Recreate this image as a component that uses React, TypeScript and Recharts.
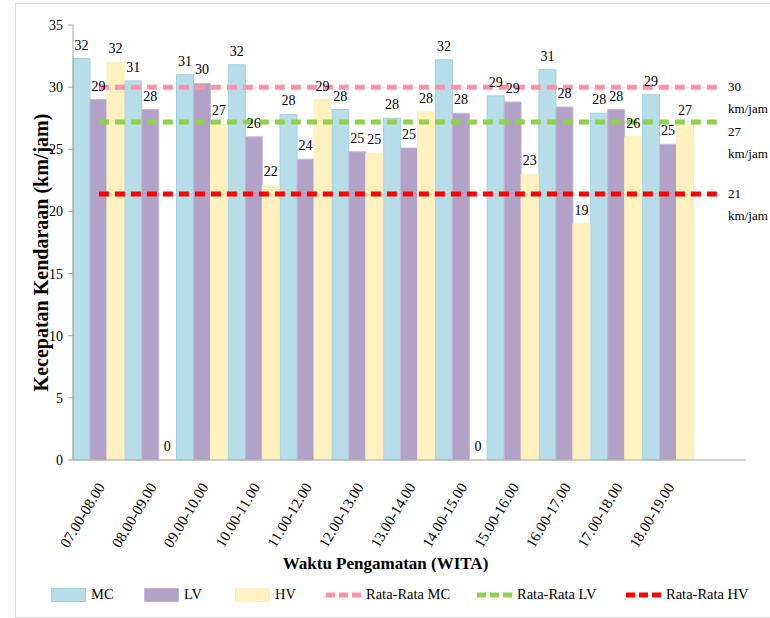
import { Bar, ComposedChart, LabelList, Line, XAxis, YAxis } from "recharts";

const waktu = [
  "07.00-08.00",
  "08.00-09.00",
  "09.00-10.00",
  "10.00-11.00",
  "11.00-12.00",
  "12.00-13.00",
  "13.00-14.00",
  "14.00-15.00",
  "15.00-16.00",
  "16.00-17.00",
  "17.00-18.00",
  "18.00-19.00",
];
const mc = [32.3, 30.5, 31.0, 31.8, 27.8, 28.2, 27.5, 32.2, 29.3, 31.4, 27.9, 29.4];
const lv = [29.0, 28.2, 30.3, 26.0, 24.2, 24.8, 25.1, 27.9, 28.8, 28.4, 28.2, 25.4];
const hv = [32.0, 0, 27.0, 22.1, 29.0, 24.7, 28.0, 0, 23.0, 19.0, 26.0, 27.0];
const rataRata = { mc: 30, lv: 27.2, hv: 21.4 };
const yTicks = [0, 5, 10, 15, 20, 25, 30, 35];

const FONT = '"Liberation Serif", "Times New Roman", serif';
const C = {
  mc: "#b7dee8",
  mcEdge: "#9dd2e0",
  lv: "#b3a2c7",
  lvEdge: "#c6b9da",
  hv: "#fff2c0",
  hvEdge: "#fbeeb8",
  avgMc: "#ff93aa",
  avgLv: "#92d050",
  avgHv: "#ff0000",
  axis: "#a6a6a6",
};

// one extra empty slot on the right, like the source axis
const rows = [...waktu, ""].map((w, i) => ({
  waktu: w,
  mc: mc[i],
  lv: lv[i],
  hv: hv[i],
  avgMc: rataRata.mc,
  avgLv: rataRata.lv,
  avgHv: rataRata.hv,
}));

// string so that a zero still shows as "0"
const fmt = (v: any) => (v == null ? "" : String(Math.round(Number(v))));
// zero-height bars get dropped together with their label, keep a hairline
const keepZero = (v: any) => (v === 0 ? 0.1 : 0);

function WaktuTick({ x, y, payload }: any) {
  if (!payload?.value) return null;
  return (
    <g transform={`translate(${x + 2},${y + 16})`}>
      <text
        textAnchor="end"
        transform="rotate(-59)"
        dy="0.35em"
        fontSize={15}
        style={{ fontFamily: FONT }}
        fill="#000"
      >
        {payload.value}
      </text>
    </g>
  );
}

function YTitle({ viewBox }: any) {
  const cx = viewBox.x + 40;
  const cy = viewBox.y + viewBox.height / 2 + 10;
  return (
    <text
      x={cx}
      y={cy}
      transform={`rotate(-90,${cx},${cy})`}
      textAnchor="middle"
      dominantBaseline="central"
      fontSize={20}
      fontWeight="bold"
      style={{ fontFamily: FONT }}
      fill="#000"
    >
      Kecepatan Kendaraan (km/jam)
    </text>
  );
}

function XTitle({ viewBox }: any) {
  return (
    <text
      x={viewBox.x + viewBox.width / 2 - 24}
      y={viewBox.y + viewBox.height - 3}
      textAnchor="middle"
      fontSize={17}
      fontWeight="bold"
      style={{ fontFamily: FONT }}
      fill="#000"
    >
      Waktu Pengamatan (WITA)
    </text>
  );
}

function endLabel(last: number, shift: number) {
  return ({ x, y, index, value }: any) => {
    if (index !== last) return null;
    return (
      <g style={{ fontFamily: FONT }} fontSize={13} fill="#000">
        <text x={x + 8} y={y + 4 + shift}>
          {Math.round(value)}
        </text>
        <text x={x + 8} y={y + 26 + shift}>
          km/jam
        </text>
      </g>
    );
  };
}

const legendItems = [
  { label: "MC", kind: "box", fill: C.mc, edge: C.mcEdge, left: 51 },
  { label: "LV", kind: "box", fill: C.lv, edge: C.lvEdge, left: 144 },
  { label: "HV", kind: "box", fill: C.hv, edge: C.hvEdge, left: 235 },
  { label: "Rata-Rata MC", kind: "dash", fill: C.avgMc, edge: C.avgMc, left: 326 },
  { label: "Rata-Rata LV", kind: "dash", fill: C.avgLv, edge: C.avgLv, left: 477 },
  { label: "Rata-Rata HV", kind: "dash", fill: C.avgHv, edge: C.avgHv, left: 626 },
];

function ChartLegend() {
  return (
    <div style={{ position: "absolute", top: 586, left: 0, height: 20 }}>
      {legendItems.map((it) => (
        <div
          key={it.label}
          style={{
            position: "absolute",
            left: it.left,
            top: 0,
            display: "flex",
            alignItems: "center",
            whiteSpace: "nowrap",
            fontSize: 14.5,
            color: "#000",
          }}
        >
          <svg width={36} height={16} style={{ marginRight: 4 }}>
            {it.kind === "box" ? (
              <rect x={0.5} y={1.5} width={34} height={13} fill={it.fill} stroke={it.edge} />
            ) : (
              <line x1={0} y1={8} x2={35} y2={8} stroke={it.fill} strokeWidth={5} strokeDasharray="9 4" />
            )}
          </svg>
          {it.label}
        </div>
      ))}
    </div>
  );
}

const labelStyle = { fontFamily: FONT };

export default function App() {
  return (
    <div
      style={{
        position: "absolute",
        left: 0,
        top: 0,
        width: 770,
        height: 618,
        background: "#fff",
        fontFamily: FONT,
      }}
    >
      <div
        style={{
          position: "absolute",
          left: 15,
          top: 3,
          width: 760,
          height: 613,
          border: "1px solid #d9d9d9",
        }}
      />
      <ComposedChart
        width={770}
        height={618}
        data={rows}
        margin={{ top: 25, right: 24, bottom: 46, left: 1 }}
        barCategoryGap={0}
        barGap={0}
        style={{ position: "absolute", left: 0, top: 0, fontFamily: FONT }}
      >
        <XAxis
          dataKey="waktu"
          interval={0}
          tickLine={false}
          axisLine={{ stroke: C.axis }}
          height={112}
          tick={<WaktuTick />}
          label={<XTitle />}
        />
        <YAxis
          domain={[0, 35]}
          ticks={yTicks}
          width={72}
          tickSize={5}
          tickMargin={5}
          tickLine={{ stroke: C.axis }}
          axisLine={{ stroke: C.axis }}
          tick={{ fontSize: 14, fill: "#000", style: labelStyle }}
          label={<YTitle />}
        />
        <Bar dataKey="mc" name="MC" fill={C.mc} stroke={C.mcEdge} isAnimationActive={false}>
          <LabelList dataKey="mc" position="top" offset={9} formatter={fmt} fontSize={14} fill="#000" style={labelStyle} />
        </Bar>
        <Bar dataKey="lv" name="LV" fill={C.lv} stroke={C.lvEdge} isAnimationActive={false}>
          <LabelList dataKey="lv" position="top" offset={9} formatter={fmt} fontSize={14} fill="#000" style={labelStyle} />
        </Bar>
        <Bar
          dataKey="hv"
          name="HV"
          fill={C.hv}
          stroke={C.hvEdge}
          minPointSize={keepZero}
          isAnimationActive={false}
        >
          <LabelList dataKey="hv" position="top" offset={9} formatter={fmt} fontSize={14} fill="#000" style={labelStyle} />
        </Bar>
        <Line
          dataKey="avgMc"
          name="Rata-Rata MC"
          stroke={C.avgMc}
          strokeWidth={5}
          strokeDasharray="10 6"
          dot={false}
          isAnimationActive={false}
          label={endLabel(waktu.length, 0)}
        />
        <Line
          dataKey="avgLv"
          name="Rata-Rata LV"
          stroke={C.avgLv}
          strokeWidth={5}
          strokeDasharray="10 6"
          dot={false}
          isAnimationActive={false}
          label={endLabel(waktu.length, 10)}
        />
        <Line
          dataKey="avgHv"
          name="Rata-Rata HV"
          stroke={C.avgHv}
          strokeWidth={5}
          strokeDasharray="10 6"
          dot={false}
          isAnimationActive={false}
          label={endLabel(waktu.length, 0)}
        />
      </ComposedChart>
      <ChartLegend />
    </div>
  );
}
